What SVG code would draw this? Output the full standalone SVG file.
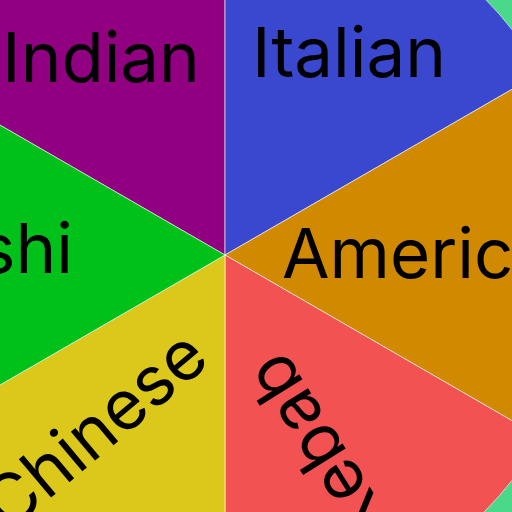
<svg xmlns="http://www.w3.org/2000/svg" width="512" height="512" viewBox="0 0 512 512">
<style>
.slice{stroke:#ffffff;stroke-opacity:0.6;stroke-width:1}
.lbl{font-family:Inter,"Noto Sans","DejaVu Sans",sans-serif;font-size:69px;fill:#000}
</style>
<rect width="512" height="512" fill="#4ad98a"/>
<g id="slice-indian"><path class="slice" fill="#910080" d="M225,255 L-91.1,72.5 A365,365 0 0 1 225,-110 Z"/><text class="lbl" x="101" y="82" text-anchor="middle">Indian</text></g>
<g id="slice-italian"><path class="slice" fill="#3a47cf" d="M225,255 L225,-110 A365,365 0 0 1 541.1,72.5 Z"/><text class="lbl" x="349" y="77" text-anchor="middle">Italian</text></g>
<g id="slice-american"><path class="slice" fill="#d18a00" d="M225,255 L541.1,72.5 A365,365 0 0 1 541.1,437.5 Z"/><text class="lbl" x="282" y="278">American</text></g>
<g id="slice-kebab"><path class="slice" fill="#f25252" d="M225,255 L541.1,437.5 A365,365 0 0 1 225,620 Z"/><text class="lbl" text-anchor="middle" transform="translate(338,436) rotate(-122)">Kebab</text></g>
<g id="slice-chinese"><path class="slice" fill="#dcc81a" d="M225,255 L225,620 A365,365 0 0 1 -91.1,437.5 Z"/><text class="lbl" text-anchor="middle" transform="translate(110,448) rotate(-40)">Chinese</text></g>
<g id="slice-sushi"><path class="slice" fill="#00c01a" d="M225,255 L-91.1,437.5 A365,365 0 0 1 -91.1,72.5 Z"/><text class="lbl" x="73" y="273" text-anchor="end">Sushi</text></g>
<g id="connectors"/>
</svg>
